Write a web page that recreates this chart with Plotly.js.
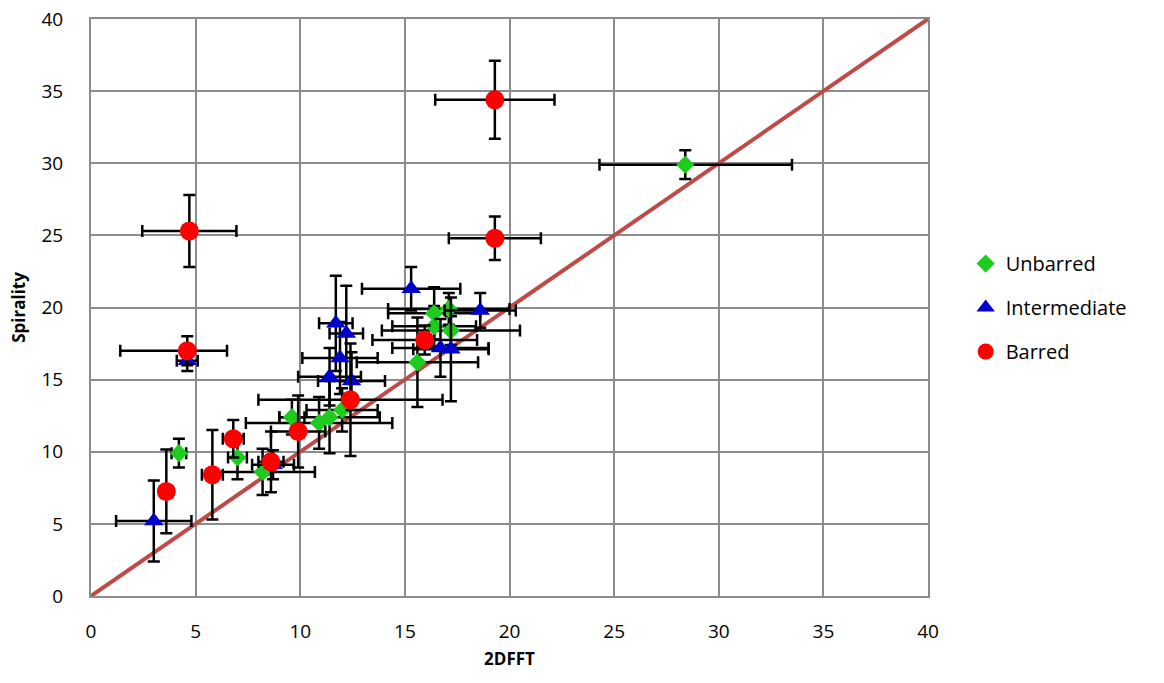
<!DOCTYPE html>
<html>
<head>
<meta charset="utf-8">
<script src="https://cdn.plot.ly/plotly-3.0.1.min.js"></script>
<style>html,body{margin:0;padding:0;background:#fff;}#chart{width:1164px;height:683px;}</style>
</head>
<body>
<div id="chart"></div>
<script>
// Unbarred
var ux  = [28.4, 4.2, 7.0, 8.2, 9.6, 10.9, 11.4, 12.0, 15.6, 16.4, 17.1, 16.4, 17.2];
var uy  = [29.9, 9.9, 9.6, 8.6, 12.4, 12.0, 12.4, 12.9, 16.2, 19.6, 19.9, 18.7, 18.4];
var uxe = [5.1, 0.35, 0.45, 2.5, 0.6, 3.5, 2.4, 1.7, 2.9, 2.2, 2.9, 2.0, 3.3];   // plus
var uxm = [4.1, 0.35, 0.45, 2.5, 0.6, 3.5, 2.4, 1.7, 2.9, 2.2, 2.9, 2.0, 3.3];   // minus
var uye = [1.0, 1.0, 1.5, 1.6, 1.2, 1.8, 2.5, 1.5, 3.1, 1.8, 1.1, 1.4, 1.0];
// Intermediate
var ix  = [3.0, 4.6, 8.7, 11.4, 11.9, 12.45, 11.7, 12.2, 15.3, 16.7, 17.2, 18.6];
var iy  = [5.2, 16.3, 9.1, 15.2, 16.5, 14.9, 18.9, 18.2, 21.3, 17.2, 17.1, 19.8];
var ixe = [1.8, 0.5, 1.0, 1.5, 1.8, 1.6, 0.8, 0.8, 2.35, 2.3, 1.8, 1.7];
var iye = [2.8, 0.7, 1.0, 2.0, 2.5, 2.0, 3.3, 3.3, 1.5, 2.0, 3.6, 1.2];
// Barred
var bx  = [19.3, 4.7, 19.3, 4.6, 15.95, 12.4, 9.9, 6.8, 8.6, 5.8, 3.6];
var by  = [34.4, 25.3, 24.8, 17.0, 17.75, 13.6, 11.4, 10.9, 9.3, 8.4, 7.25];
var bxe = [2.85, 2.25, 2.2, 1.9, 2.5, 4.4, 1.3, 0.5, 0.6, 0.5, 0.3];   // plus
var bxm = [2.85, 2.25, 2.2, 3.2, 2.5, 4.4, 1.3, 0.5, 0.6, 0.5, 0.3];   // minus
var bye = [2.7, 2.5, 1.5, 1.0, 1.0, 3.9, 2.5, 1.3, 2.1, 3.1, 2.9];
// 1:1 line
var lineX = [0, 40];
var lineY = [0, 40];

var names = ['Unbarred', 'Intermediate', 'Barred'];
var tickVals = [0, 5, 10, 15, 20, 25, 30, 35, 40];

function errStyle(plus, minus) {
  var e = {type: 'data', array: plus, visible: true, color: '#000', thickness: 2.5, width: 6};
  if (minus) { e.symmetric = false; e.arrayminus = minus; }
  return e;
}

var traces = [
  {x: lineX, y: lineY, mode: 'lines', line: {color: '#be4b48', width: 4}, showlegend: false, hoverinfo: 'skip'},
  {x: ux, y: uy, name: names[0], mode: 'markers', legendgroup: 'a',
   marker: {symbol: 'diamond', size: 14, color: '#1ecc1e'},
   error_x: errStyle(uxe, uxm), error_y: errStyle(uye)},
  {x: ix, y: iy, name: names[1], mode: 'markers', legendgroup: 'b',
   marker: {symbol: 'triangle-up', size: 17, color: '#0000cc'},
   error_x: errStyle(ixe), error_y: errStyle(iye)},
  {x: bx, y: by, name: names[2], mode: 'markers', legendgroup: 'c',
   marker: {symbol: 'circle', size: 19, color: '#ff0000'},
   error_x: errStyle(bxe, bxm), error_y: errStyle(bye)}
];

var fontFam = 'Open Sans, Lato, sans-serif';
var axisCommon = {
  range: [0, 40], tickvals: tickVals, ticktext: tickVals.map(String),
  showgrid: true, gridcolor: '#8c8c8c', gridwidth: 2,
  showline: true, linecolor: '#8c8c8c', linewidth: 2, mirror: true,
  zeroline: false, ticks: '',
  tickfont: {family: fontFam, size: 19, color: '#000'},
  fixedrange: true
};

var layout = {
  width: 1164, height: 683,
  paper_bgcolor: '#fff', plot_bgcolor: '#fff',
  margin: {l: 91, r: 236, t: 19, b: 87},
  xaxis: Object.assign({}, axisCommon, {
    ticklabelstandoff: 17,
    title: {text: '<b>2DFFT</b>', font: {family: fontFam, size: 17, color: '#000'}, standoff: 10}
  }),
  yaxis: Object.assign({}, axisCommon, {
    ticklabelstandoff: 22,
    title: {text: '<b>Spirality</b>', font: {family: fontFam, size: 17, color: '#000'}, standoff: 12}
  }),
  showlegend: true,
  legend: {
    x: 1.045, y: 0.61, xanchor: 'left', yanchor: 'top',
    font: {family: fontFam, size: 20, color: '#000'},
    traceorder: 'grouped', tracegroupgap: 15,
    itemwidth: 30, bgcolor: 'rgba(0,0,0,0)'
  }
};

Plotly.newPlot('chart', traces, layout, {displayModeBar: false, staticPlot: true});
</script>
</body>
</html>
